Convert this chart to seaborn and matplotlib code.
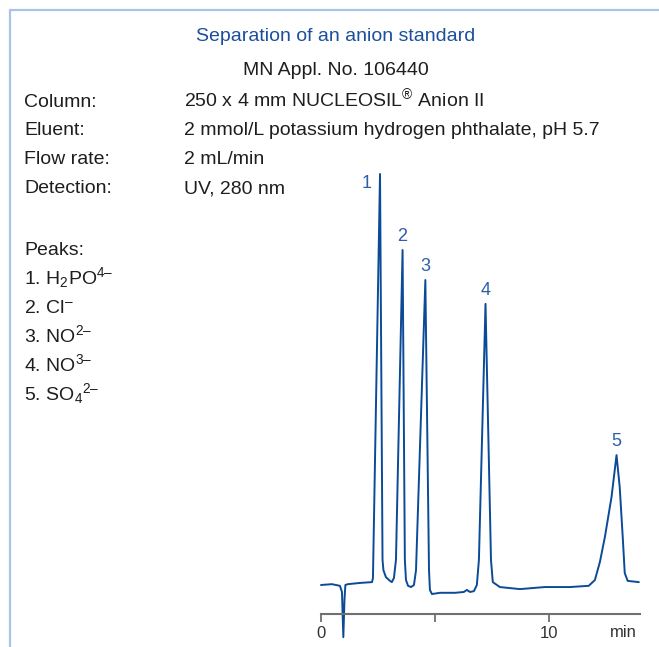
import numpy as np
import pandas as pd
import matplotlib
matplotlib.use("Agg")
import matplotlib.pyplot as plt
from matplotlib.lines import Line2D
import seaborn as sns

# chromatogram trace (time in min, signal in arbitrary units, peak 1 = 100)
time_min = [0.00, 0.48, 0.83, 0.92, 0.98, 1.03, 1.07, 1.18, 1.71, 2.24,
            2.28, 2.59, 2.70, 2.74, 2.85, 3.03, 3.11, 3.20, 3.29, 3.58,
            3.68, 3.73, 3.82, 3.95, 4.08, 4.17, 4.58, 4.74, 4.78, 4.87,
            5.22, 5.88, 6.27, 6.40, 6.54, 6.71, 6.84, 6.93, 7.22, 7.46,
            7.54, 7.85, 8.73, 9.82, 10.92, 11.75, 12.02, 12.24, 12.46, 12.75,
            12.97, 13.11, 13.25, 13.33, 13.46, 13.95]
signal = [0.0, 0.2, -0.2, -1.7, -12.7, -3.6, 0.0, 0.2, 0.5, 0.7,
          1.7, 100.0, 6.1, 3.6, 1.9, 1.0, 0.7, 1.7, 6.1, 81.5,
          6.1, 1.2, -0.2, -0.5, 0.0, 3.6, 74.2, 3.6, -1.2, -2.2,
          -1.9, -1.9, -1.7, -1.2, -1.7, -1.5, 0.0, 6.1, 68.4, 6.1,
          0.7, -0.5, -1.0, -0.5, -0.5, -0.2, 1.2, 5.6, 11.7, 21.4,
          31.6, 23.8, 10.9, 2.9, 1.0, 0.7]

peak_numbers = ["1", "2", "3", "4", "5"]
peak_rt = [2.59, 3.58, 4.58, 7.22, 12.97]

x_ticks = [0, 5, 10]
x_ticklabels = ["0", "", "10"]

title = "Separation of an anion standard"
subtitle = "MN Appl. No. 106440"
cond_keys = ["Column:", "Eluent:", "Flow rate:", "Detection:"]
cond_values = ["250 x 4 mm NUCLEOSIL$^{®}$ Anion II",
               "2 mmol/L potassium hydrogen phthalate, pH 5.7",
               "2 mL/min",
               "UV, 280 nm"]
peak_names = ["1. H$_2$PO$^{4–}$", "2. Cl$^{–}$", "3. NO$^{2–}$",
              "4. NO$^{3–}$", "5. SO$_4$$^{2–}$"]

BLUE = "#0b4a96"
LABEL_BLUE = "#2d5fa8"
GREY = "#707070"
TXT = "#1e1e1e"
FS = 14

sns.set_style("white")
plt.rcParams["font.family"] = ["Liberation Sans", "DejaVu Sans"]
plt.rcParams["mathtext.fontset"] = "custom"
plt.rcParams["mathtext.rm"] = "Liberation Sans"
plt.rcParams["mathtext.it"] = "Liberation Sans:italic"
plt.rcParams["mathtext.bf"] = "Liberation Sans:bold"

df = pd.DataFrame({"time": time_min, "signal": signal})

fig = plt.figure(figsize=(6.59, 6.47), dpi=100)
ax = fig.add_axes([321 / 659, 2 / 647, 319 / 659, 485 / 647])
ax.patch.set_alpha(0)

sns.lineplot(data=df, x="time", y="signal", ax=ax, color=BLUE, lw=1.4,
             sort=False, clip_on=False)

ax.set_xlim(0, 14)
ax.set_ylim(-14.6, 103.4)
for side in ["left", "right", "top"]:
    ax.spines[side].set_visible(False)
ax.spines["bottom"].set_position(("data", -7.06))
ax.spines["bottom"].set_color(GREY)
ax.spines["bottom"].set_linewidth(1.5)
ax.set_xticks(x_ticks)
ax.set_xticklabels(x_ticklabels)
ax.tick_params(axis="x", bottom=True, direction="out", length=5.5, width=1.3,
               color=GREY, labelsize=12, labelcolor="#333333", pad=3)
ax.set_yticks([])
ax.set_xlabel("")
ax.set_ylabel("")
ax.annotate("min", xy=(13.25, -7.06), xycoords="data", xytext=(0, -13),
            textcoords="offset points", ha="center", va="center",
            fontsize=12, color="#333333")

# peak numbers
for i, (lab, rt) in enumerate(zip(peak_numbers, peak_rt)):
    h = np.interp(rt, time_min, signal)
    off = (-10, -6.5) if i == 0 else (0, 9.5)
    ax.annotate(lab, xy=(rt, h), xytext=off, textcoords="offset points",
                ha="center", va="center", fontsize=13, color=LABEL_BLUE)

# header text (baselines in pixels from top)
fig.text(336 / 659, 1 - 41 / 647, title, ha="center", va="baseline",
         fontsize=FS, color="#1c4f9c")
fig.text(336 / 659, 1 - 75 / 647, subtitle, ha="center", va="baseline",
         fontsize=FS, color=TXT)
cond_y = [107, 135, 164, 193]
for k, v, y in zip(cond_keys, cond_values, cond_y):
    fig.text(24 / 659, 1 - y / 647, k, ha="left", va="baseline",
             fontsize=FS, color=TXT)
    fig.text(184 / 659, 1 - y / 647, v, ha="left", va="baseline",
             fontsize=FS, color=TXT)

fig.text(24 / 659, 1 - 255 / 647, "Peaks:", ha="left", va="baseline",
         fontsize=FS, color=TXT)
for j, name in enumerate(peak_names):
    fig.text(24 / 659, 1 - (284 + 29 * j) / 647, name, ha="left",
             va="baseline", fontsize=FS, color=TXT)

# light blue frame on left and top
frame_c = "#a9c4e6"
fig.add_artist(Line2D([9.5 / 659, 9.5 / 659], [0, 1 - 10 / 647],
                      transform=fig.transFigure, color=frame_c, lw=1.6))
fig.add_artist(Line2D([9.5 / 659, 1], [1 - 10 / 647, 1 - 10 / 647],
                      transform=fig.transFigure, color=frame_c, lw=1.6))

fig.savefig("out.png", dpi=100)
